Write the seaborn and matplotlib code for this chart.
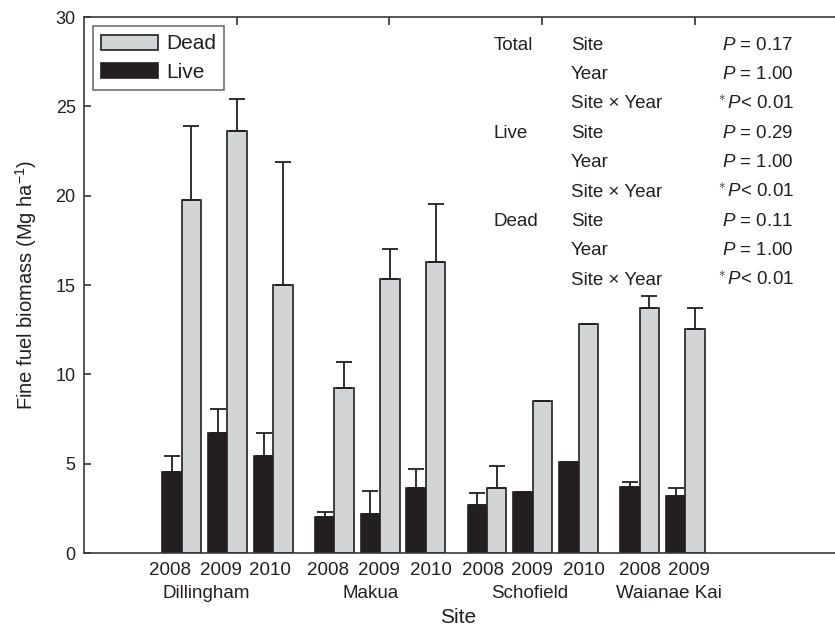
import numpy as np
import pandas as pd
import matplotlib
matplotlib.use("Agg")
import matplotlib.pyplot as plt
import matplotlib.transforms as mtransforms
from matplotlib.patches import Patch
import seaborn as sns

# ---------------- data ----------------
site_order = ["Dillingham", "Makua", "Schofield", "Waianae Kai"]
sites = ["Dillingham", "Dillingham", "Dillingham", "Makua", "Makua", "Makua",
         "Schofield", "Schofield", "Schofield", "Waianae Kai", "Waianae Kai"]
years = ["2008", "2009", "2010", "2008", "2009", "2010",
         "2008", "2009", "2010", "2008", "2009"]
live = [4.55, 6.72, 5.41, 2.01, 2.18, 3.64, 2.69, 3.40, 5.07, 3.67, 3.17]
live_se = [0.88, 1.34, 1.29, 0.27, 1.29, 1.08, 0.65, np.nan, np.nan, 0.32, 0.48]
dead = [19.75, 23.60, 15.00, 9.22, 15.35, 16.27, 3.66, 8.51, 12.81, 13.73, 12.53]
dead_se = [4.15, 1.80, 6.90, 1.47, 1.68, 3.24, 1.21, np.nan, np.nan, 0.65, 1.18]

stat_groups = ["Total", "", "", "Live", "", "", "Dead", "", ""]
stat_terms = ["Site", "Year", "Site \u00d7 Year"] * 3
stat_p = [r"$P$ = 0.17", r"$P$ = 1.00", r"$^{\ast}\,P$< 0.01",
          r"$P$ = 0.29", r"$P$ = 1.00", r"$^{\ast}\,P$< 0.01",
          r"$P$ = 0.11", r"$P$ = 1.00", r"$^{\ast}\,P$< 0.01"]

# ---------------- layout ----------------
year_order = ["2008", "2009", "2010"]
pos = [site_order.index(s) + 1 - 0.36 + 0.3 * year_order.index(y)
       for s, y in zip(sites, years)]
year_label_shift = [-0.075, -0.043, -0.02, -0.04, -0.007, 0.033,
                    -0.026, -0.007, 0.033, 0.0, 0.026]
site_shift = [-0.14, -0.06, -0.02, 0.04]

df = pd.concat([
    pd.DataFrame({"pos": pos, "site": sites, "year": years, "type": "Live",
                  "value": live, "err": live_se}),
    pd.DataFrame({"pos": pos, "site": sites, "year": years, "type": "Dead",
                  "value": dead, "err": dead_se}),
], ignore_index=True)

sns.set_style("ticks")
plt.rcParams["font.family"] = ["Liberation Sans", "DejaVu Sans"]
plt.rcParams["mathtext.fontset"] = "custom"
plt.rcParams["mathtext.rm"] = "Liberation Sans"
plt.rcParams["mathtext.it"] = "Liberation Sans:italic"
plt.rcParams["mathtext.bf"] = "Liberation Sans:bold"

ink = "#231f20"
gray = "#d3d4d6"

fig = plt.figure(figsize=(8.35, 6.27), dpi=100)
ax = fig.add_axes([84 / 835, 1 - 553 / 627, 1 - 84 / 835, 536 / 627])

sns.barplot(data=df, x="pos", y="value", hue="type", hue_order=["Live", "Dead"],
            palette={"Live": ink, "Dead": gray}, native_scale=True, width=0.85,
            dodge=True, errorbar=None, saturation=1, edgecolor=ink,
            linewidth=1.2, legend=False, ax=ax)

# upward-only error bars at the bar centres
for cont, level in zip(ax.containers, ["Live", "Dead"]):
    sub = df[df["type"] == level].sort_values("pos")
    xs = [b.get_x() + b.get_width() / 2 for b in cont]
    ax.errorbar(xs, sub["value"].values,
                yerr=[np.zeros(len(sub)), sub["err"].values],
                fmt="none", ecolor=ink, elinewidth=1.3, capsize=6, capthick=1.3,
                zorder=3)

ax.set_xlim(0, 4.92)
ax.set_ylim(0, 30)
ax.set_yticks([0, 5, 10, 15, 20, 25, 30])
ax.set_xticks([1, 2, 3, 4])
ax.set_xticklabels([])
ax.tick_params(axis="x", which="both", direction="in", length=6, width=1.1,
               top=True, bottom=True, color=ink)
ax.tick_params(axis="y", direction="in", length=5, width=1.1, labelsize=13,
               labelcolor=ink, color=ink, pad=6)
ax.set_axisbelow(True)
for side in ["left", "bottom", "top"]:
    ax.spines[side].set_linewidth(1.2)
    ax.spines[side].set_color("#3a3a3a")
ax.spines["right"].set_visible(False)

ax.set_xlabel("Site", fontsize=15, color=ink)
ax.xaxis.set_label_coords((458 - 84) / 750, -0.103)
ax.set_ylabel("Fine fuel biomass (Mg ha$^{-1}$)", fontsize=14.5, color=ink,
              labelpad=12)

# year and site labels under the axis
trans = mtransforms.blended_transform_factory(ax.transData, ax.transAxes)
for p, y, dx in zip(pos, years, year_label_shift):
    ax.text(p + dx, -0.032, y, transform=trans, ha="center", va="center",
            fontsize=13.5, color=ink)
for i, s in enumerate(site_order):
    ps = [p for p, ss in zip(pos, sites) if ss == s]
    ax.text(np.mean(ps) + site_shift[i], -0.075, s, transform=trans,
            ha="center", va="center", fontsize=13.5, color=ink)

# statistics table
row_y0, row_step = 28.43, 1.645
for k, (g, t, p) in enumerate(zip(stat_groups, stat_terms, stat_p)):
    yy = row_y0 - k * row_step
    if g:
        ax.text(2.685, yy, g, ha="left", va="center", fontsize=13.5, color=ink)
    ax.text(3.19, yy, t, ha="left", va="center", fontsize=13.5, color=ink)
    ax.text(4.65, yy, p, ha="right", va="center", fontsize=13.5, color=ink)

handles = [Patch(facecolor=gray, edgecolor=ink, linewidth=1.2, label="Dead"),
           Patch(facecolor=ink, edgecolor=ink, linewidth=1.2, label="Live")]
leg = ax.legend(handles=handles, loc="upper left", bbox_to_anchor=(0.012, 0.983),
                borderaxespad=0, fontsize=15, frameon=True, fancybox=False,
                edgecolor="#3a3a3a", handlelength=2.7, handleheight=0.75,
                handletextpad=0.4, labelspacing=0.45, borderpad=0.4)
leg.get_frame().set_linewidth(1.1)
for t in leg.get_texts():
    t.set_color(ink)

fig.savefig("out.png", dpi=100)
